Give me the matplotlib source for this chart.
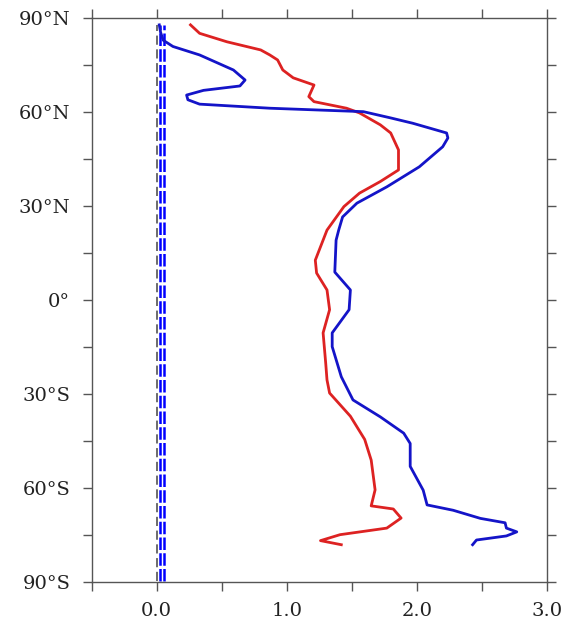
import matplotlib
matplotlib.use("Agg")
import matplotlib.pyplot as plt
from matplotlib.ticker import MultipleLocator, FixedLocator

# ---- data ----
blue_lat = [87.9, 85.5, 83.0, 81.0, 78.3, 73.5, 70.3, 68.4, 67.0, 65.5, 64.0, 62.6,
            61.3, 60.2, 58.2, 56.5, 53.4, 51.8, 49.0, 42.6, 36.2, 31.0, 26.6, 22.4,
            19.2, 9.0, 3.3, -3.0, -10.4, -14.8, -24.4, -31.8, -37.2, -42.4, -45.7,
            -53.0, -60.6, -65.3, -67.0, -69.6, -71.0, -72.7, -73.9, -75.2, -76.5, -78.0]
blue_val = [0.02, 0.03, 0.05, 0.125, 0.33, 0.59, 0.68, 0.64, 0.36, 0.23, 0.24, 0.33,
            0.87, 1.59, 1.80, 1.97, 2.23, 2.24, 2.20, 2.02, 1.77, 1.54, 1.43, 1.40,
            1.38, 1.37, 1.49, 1.48, 1.35, 1.35, 1.42, 1.51, 1.72, 1.90, 1.95,
            1.95, 2.05, 2.08, 2.28, 2.49, 2.68, 2.69, 2.77, 2.69, 2.46, 2.43]

red_lat = [87.9, 85.2, 82.5, 79.9, 78.3, 76.7, 73.5, 71.0, 68.7, 65.0, 63.4, 61.3,
           59.8, 56.0, 53.4, 48.0, 41.6, 37.9, 34.2, 29.9, 22.4, 12.8, 8.7, 3.3,
           -3.0, -10.4, -20.0, -25.4, -29.6, -37.0, -44.4, -51.0, -60.5, -65.6,
           -66.6, -69.5, -72.7, -74.8, -76.7, -78.0]
red_val = [0.26, 0.33, 0.54, 0.80, 0.87, 0.93, 0.97, 1.05, 1.21, 1.17, 1.21, 1.46,
           1.56, 1.72, 1.80, 1.86, 1.86, 1.72, 1.56, 1.44, 1.31, 1.22, 1.23, 1.31,
           1.33, 1.28, 1.30, 1.31, 1.33, 1.49, 1.60, 1.65, 1.68, 1.65,
           1.82, 1.88, 1.77, 1.41, 1.26, 1.42]

ref_lat = [-89.5, 88.0]
black_ref = [0.0, 0.0]
blue_ref1 = [0.022, 0.022]
blue_ref2 = [0.053, 0.053]

xticks_major = [0.0, 1.0, 2.0, 3.0]
xtick_labels = ["0.0", "1.0", "2.0", "3.0"]
yticks_major = [-90, -60, -30, 0, 30, 60, 90]
ytick_labels = ["90°S", "60°S", "30°S", "0°", "30°N", "60°N", "90°N"]

# ---- figure ----
fig = plt.figure(figsize=(5.65, 6.22), dpi=100)
ax = fig.add_axes([0.1623, 0.0638, 0.8053, 0.9068])

ax.plot(black_ref, ref_lat, color="#444444", lw=1.1, dashes=(6, 3))
ax.plot(blue_ref1, ref_lat, color="#0000ff", lw=1.8, dashes=(5, 1.3))
ax.plot(blue_ref2, ref_lat, color="#0000ff", lw=1.8, dashes=(5, 1.3))
ax.plot(red_val, red_lat, color="#dd2222", lw=2.0, solid_joinstyle="round")
ax.plot(blue_val, blue_lat, color="#1414c8", lw=2.0, solid_joinstyle="round")

ax.set_xlim(-0.5, 3.0)
ax.set_ylim(-90, 90)

ax.xaxis.set_major_locator(FixedLocator(xticks_major))
ax.set_xticklabels(xtick_labels)
ax.xaxis.set_minor_locator(MultipleLocator(0.5))
ax.yaxis.set_major_locator(FixedLocator(yticks_major))
ax.set_yticklabels(ytick_labels)
ax.yaxis.set_minor_locator(MultipleLocator(15))

for s in ax.spines.values():
    s.set_color("#555555")
    s.set_linewidth(1.0)

ax.tick_params(which="both", direction="out", length=6.5, width=1.0, color="#555555",
               top=True, right=True, labeltop=False, labelright=False)
ax.tick_params(axis="y", which="major", pad=9)
ax.tick_params(axis="x", which="major", pad=8)
for lab in ax.get_xticklabels() + ax.get_yticklabels():
    lab.set_fontfamily("DejaVu Serif")
    lab.set_fontsize(14)
    lab.set_color("#222222")

fig.savefig("out.png", dpi=100, facecolor="white")
